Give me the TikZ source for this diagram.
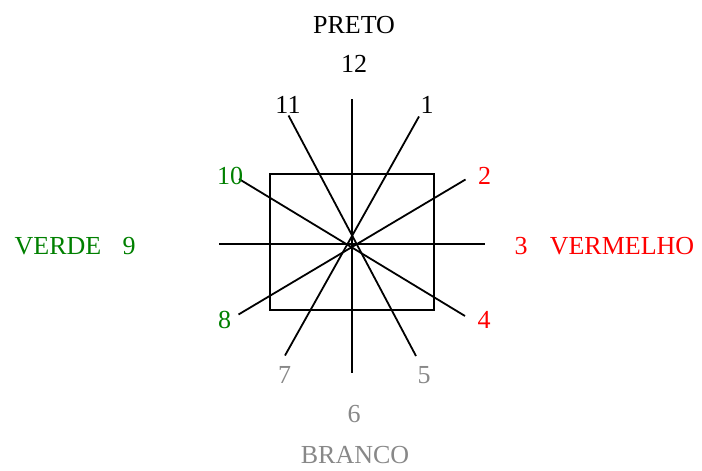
\documentclass[tikz,border=0pt]{standalone}
\usepackage{fontspec}
\setmainfont{Liberation Serif}
\definecolor{vgreen}{RGB}{0,128,0}
\definecolor{bgray}{RGB}{136,136,136}
\begin{document}
\begin{tikzpicture}[x=1pt,y=-1pt,
  lbl/.style={anchor=base,inner sep=0pt,font=\fontsize{26}{31}\selectfont},
  ray/.style={line width=1.8pt,black},
  boxsq/.style={line width=1.8pt,draw=black}]
\useasboundingbox (0,0) rectangle (702,471);
% square
\draw[boxsq] (270,174) rectangle (434,310);
% ray end points
\coordinate (v1) at (352,99);
\coordinate (v2) at (352,373);
\coordinate (h1) at (219,244);
\coordinate (h2) at (485,244);
\coordinate (a1) at (288.5,115.5);
\coordinate (a2) at (416,356);
\coordinate (b1) at (419,116.5);
\coordinate (b2) at (285,355.5);
\coordinate (c1) at (239,179);
\coordinate (c2) at (465,316);
\coordinate (d1) at (465.5,179.5);
\coordinate (d2) at (238.5,314.5);
\draw[ray] (v1) -- (v2);
\draw[ray] (h1) -- (h2);
\draw[ray] (a1) -- (a2);
\draw[ray] (b1) -- (b2);
\draw[ray] (c1) -- (c2);
\draw[ray] (d1) -- (d2);
% labels
\node[lbl] (preto) at (354,33.5) {PRETO};
\node[lbl] (n12) at (354,72) {12};
\node[lbl] (n11) at (288,113) {11};
\node[lbl] (n1) at (427,113) {1};
\node[lbl,text=vgreen] (n10) at (230,184) {10};
\node[lbl,text=red] (n2) at (484.5,184) {2};
\node[lbl,text=vgreen] (verde) at (58,254.5) {VERDE};
\node[lbl,text=vgreen] (n9) at (129,254.5) {9};
\node[lbl,text=red] (n3) at (521,254.5) {3};
\node[lbl,text=red] (verm) at (622,254.5) {VERMELHO};
\node[lbl,text=vgreen] (n8) at (224.5,328) {8};
\node[lbl,text=red] (n4) at (484,328) {4};
\node[lbl,text=bgray] (n7) at (284.5,383) {7};
\node[lbl,text=bgray] (n5) at (424,383) {5};
\node[lbl,text=bgray] (n6) at (354,422) {6};
\node[lbl,text=bgray] (branco) at (355,463) {BRANCO};
\end{tikzpicture}
\end{document}
